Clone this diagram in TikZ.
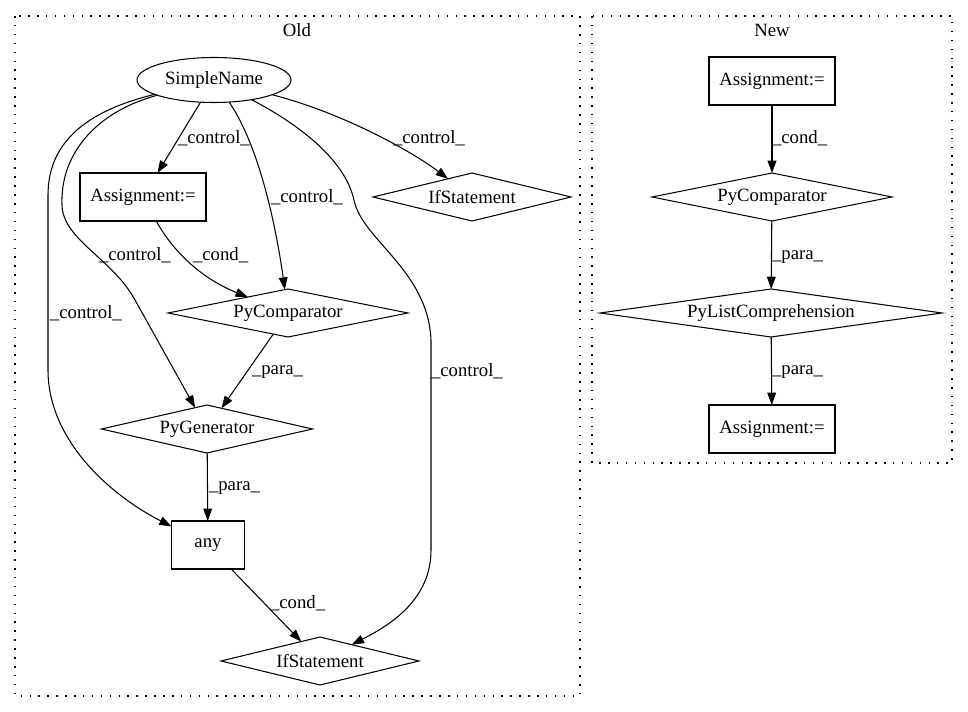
\documentclass[tikz,border=0pt]{standalone}
\usepackage{fontspec}
\setmainfont{Liberation Serif}
\usepackage{tikz}
\usetikzlibrary{
    arrows.meta,
    shapes.geometric
}

\begin{document}
\begin{tikzpicture}[
    x=0.03cm, y=-0.03cm,
    font=\fontsize{16}{19}\selectfont,
    every node/.style={inner sep=0pt, outer sep=0pt},
    box/.style={draw, line width=0.9pt, rectangle, minimum width=3.78cm, minimum height=1.44cm},
    oval/.style={draw, line width=0.9pt, ellipse, minimum width=4.62cm, minimum height=1.35cm},
    dia/.style={draw, line width=0.9pt, diamond, aspect=#1, minimum height=1.44cm},
    edge/.style={line width=0.9pt, -{Triangle[length=10.5pt,width=7.5pt]}},
    lbl/.style={anchor=west},
    cluster/.style={line width=1pt, dash pattern=on 1.3pt off 6.3pt}
]
\useasboundingbox (0,0) rectangle (968,712);

% clusters
\draw[cluster] (15,16) rectangle (580,696);
\node (old) at (297,30) {Old};
\draw[cluster] (592,16) rectangle (952,463);
\node (new) at (772,30) {New};

% old graph
\node[oval] (sn) at (214,80) {SimpleName};
\node[box] (asg) at (143,197) {Assignment:=};
\node[dia=4.125, minimum width=5.94cm] (ifa) at (472,197) {IfStatement};
\node[dia=5, minimum width=7.2cm] (pco) at (288,313) {PyComparator};
\node[dia=4.4, minimum width=6.33cm] (pgen) at (207,429) {PyGenerator};
\node[box, minimum width=2.19cm] (any) at (208,545) {any};
\node[dia=4.125, minimum width=5.94cm] (ifb) at (320,661) {IfStatement};

\draw[edge] (sn) -- (asg);
\draw[edge] (sn) .. controls (340,112) and (410,150) .. (ifa);
\draw[edge] (sn) .. controls (262,150) and (278,240) .. (pco);
\draw[edge] (sn) .. controls (95,112) and (60,155) .. (62,205)
    .. controls (63,240) and (112,258) .. (135,300) -- (pgen);
\draw[edge] (sn) .. controls (90,110) and (48,140) .. (48,195) -- (48,370)
    .. controls (48,440) and (110,495) .. (any);
\draw[edge] (sn) .. controls (300,125) and (345,160) .. (354,200)
    .. controls (362,240) and (428,270) .. (431,340) -- (431,550)
    .. controls (431,600) and (390,625) .. (ifb);
\draw[edge] (asg) .. controls (175,255) and (205,280) .. (pco);
\draw[edge] (pco) -- (pgen);
\draw[edge] (pgen) -- (any);
\draw[edge] (any) -- (ifb);

\node[lbl] (l1) at (178,138) {\_control\_};
\node[lbl] (l2) at (393,138) {\_control\_};
\node[lbl] (l3) at (271,197) {\_control\_};
\node[lbl] (l4) at (99,255) {\_control\_};
\node[lbl] (l5) at (50,313) {\_control\_};
\node[lbl] (l6) at (431,371) {\_control\_};
\node[lbl] (l7) at (193,255) {\_cond\_};
\node[lbl] (l8) at (252,372) {\_para\_};
\node[lbl] (l9) at (209,488) {\_para\_};
\node[lbl] (l10) at (270,603) {\_cond\_};

% new graph
\node[box] (asn) at (772,81) {Assignment:=};
\node[dia=5, minimum width=7.2cm] (pcn) at (772,197) {PyComparator};
\node[dia=7.1, minimum width=10.26cm] (plc) at (771,313) {PyListComprehension};
\node[box] (asm) at (772,429) {Assignment:=};

\draw[edge] (asn) -- (pcn);
\draw[edge] (pcn) -- (plc);
\draw[edge] (plc) -- (asm);

\node[lbl] (n1) at (772,138) {\_cond\_};
\node[lbl] (n2) at (772,257) {\_para\_};
\node[lbl] (n3) at (772,372) {\_para\_};
\end{tikzpicture}
\end{document}
